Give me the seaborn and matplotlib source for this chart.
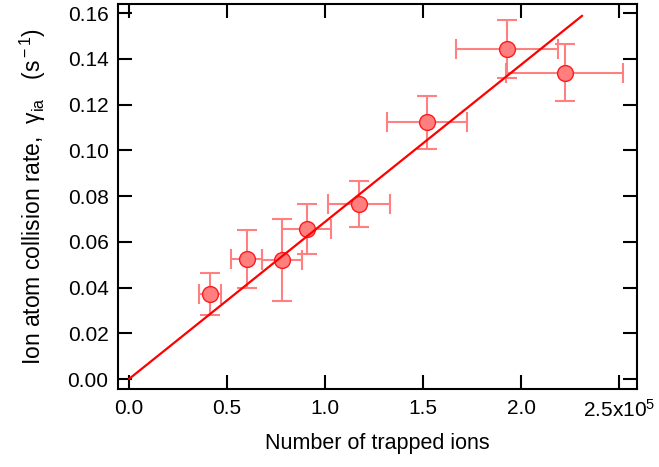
import numpy as np
import pandas as pd
import matplotlib
matplotlib.use("Agg")
import matplotlib.pyplot as plt
import seaborn as sns

# data
n_ions = [0.413e5, 0.600e5, 0.778e5, 0.906e5, 1.174e5, 1.520e5, 1.928e5, 2.222e5]
n_err = [0.055e5, 0.079e5, 0.102e5, 0.125e5, 0.158e5, 0.205e5, 0.260e5, 0.298e5]
rate = [0.0372, 0.0525, 0.0521, 0.0656, 0.0766, 0.1122, 0.1444, 0.1340]
rate_err = [0.0093, 0.0127, 0.0181, 0.0108, 0.0099, 0.0118, 0.0126, 0.0124]

fit_x = [0.0, 2.31e5]
fit_y = [0.0, 0.1589]

xtick_vals = [0, 50000, 100000, 150000, 200000, 250000]
xtick_labels = ["0.0", "0.5", "1.0", "1.5", "2.0", r"2.5x10$^{5}$"]
ytick_vals = [0.00, 0.02, 0.04, 0.06, 0.08, 0.10, 0.12, 0.14, 0.16]

pts = pd.DataFrame({"n": n_ions, "rate": rate})
fit = pd.DataFrame({"n": fit_x, "rate": fit_y})

sns.set_theme(style="ticks")
plt.rcParams["font.family"] = ["Liberation Sans", "DejaVu Sans"]
plt.rcParams["mathtext.fontset"] = "custom"
plt.rcParams["mathtext.rm"] = "Liberation Sans"
plt.rcParams["mathtext.it"] = "Liberation Sans:italic"
plt.rcParams["text.color"] = "black"
plt.rcParams["axes.labelcolor"] = "black"
plt.rcParams["xtick.color"] = "black"
plt.rcParams["ytick.color"] = "black"

fig = plt.figure(figsize=(6.59, 4.67), dpi=100)
ax = fig.add_axes([0.1795, 0.1664, 0.7876, 0.8244])

ax.errorbar(n_ions, rate, xerr=n_err, yerr=rate_err, fmt="none",
            ecolor="#ff8080", elinewidth=1.5, capsize=7, capthick=1.5, zorder=2)
sns.scatterplot(data=pts, x="n", y="rate", ax=ax, s=130, color="#ff7f7f",
                edgecolor="#ff1a1a", linewidth=1.0, zorder=3)
sns.lineplot(data=fit, x="n", y="rate", ax=ax, color="#ff0000", linewidth=1.6,
             zorder=4)

ax.set_xlim(-0.0545e5, 2.591e5)
ax.set_ylim(-0.0045, 0.1639)
ax.set_xticks(xtick_vals)
ax.set_xticklabels(xtick_labels)
ax.set_yticks(ytick_vals)
ax.set_yticklabels([f"{v:.2f}" for v in ytick_vals])

ax.tick_params(direction="in", length=10, width=1.5, labelsize=15,
               top=True, right=True, color="black", labelcolor="black", pad=7)
for s in ax.spines.values():
    s.set_linewidth(1.5)
    s.set_color("black")

ax.set_xlabel("Number of trapped ions", fontsize=15.5, labelpad=9)
ax.set_ylabel(r"Ion atom collision rate,  $\mathrm{\gamma}_{\rm ia}$   (s$^{\rm -1}$)",
              fontsize=16.5, labelpad=14)

fig.savefig("out.png", dpi=100)
